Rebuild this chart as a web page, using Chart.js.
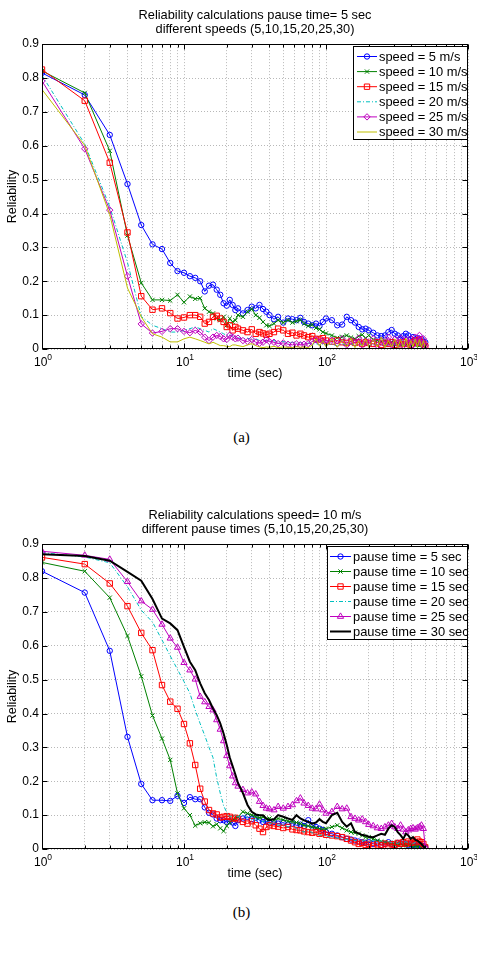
<!DOCTYPE html>
<html>
<head>
<meta charset="utf-8">
<script src="https://cdn.jsdelivr.net/npm/chart.js@4.4.1/dist/chart.umd.min.js"></script>
<style>
    body { margin: 0; background: #fff; width: 477px; height: 959px; position: relative; overflow: hidden; }
    canvas { position: absolute; left: 0; }
    #chart-speed { top: 0; }
    #chart-pause { top: 500px; }
    .caption { position: absolute; left: 0; width: 477px; text-align: center; font: 15px "Liberation Serif", "Times New Roman", serif; line-height: 18px; }
</style>
</head>
<body>
<canvas id="chart-speed" width="477" height="400"></canvas>
<canvas id="chart-pause" width="477" height="400"></canvas>
<div class="caption" style="top:428px; left:3px;">(a)</div>
<div class="caption" style="top:903px; left:3px;">(b)</div>
<script>
// time axis shared by every series (seconds)
const timeSec = [1, 2, 3, 4, 5, 6, 7, 8, 9, 10, 11, 12, 13, 14, 15, 16, 17, 18, 19, 20, 21, 22, 23, 24,
    26, 28, 30, 32, 34, 36, 38, 40,
    43, 46, 50, 54, 58, 62, 66, 70,
    75, 80, 85, 90, 95, 100,
    110, 120, 130, 140, 150, 160, 170, 180, 190, 200,
    215, 230, 245, 260, 275, 290, 305, 320, 335, 350, 365, 380, 395, 410, 425, 440, 455, 470, 485, 500];

const xDecades = [1, 10, 100, 1000];
const yTicks = [0, 0.1, 0.2, 0.3, 0.4, 0.5, 0.6, 0.7, 0.8, 0.9];

// (a) pause time = 5 sec, different speeds
const speedTitle = ['Reliability calculations pause time= 5 sec', 'different speeds (5,10,15,20,25,30)'];
const speedLabels = ['speed = 5 m/s', 'speed = 10 m/s', 'speed = 15 m/s', 'speed = 20 m/s', 'speed = 25 m/s', 'speed = 30 m/s'];

const speed5 = [0.815, 0.750, 0.632, 0.487, 0.366, 0.309, 0.295, 0.254, 0.230, 0.225, 0.215, 0.210, 0.200, 0.170, 0.187, 0.190, 0.175, 0.160, 0.135, 0.128, 0.145, 0.130, 0.115, 0.120,
    0.105, 0.115, 0.125, 0.120, 0.130, 0.118, 0.110, 0.100,
    0.088, 0.095, 0.078, 0.090, 0.088, 0.085, 0.092, 0.080,
    0.075, 0.070, 0.075, 0.068, 0.080, 0.090,
    0.085, 0.070, 0.072, 0.095, 0.085, 0.078, 0.065, 0.058, 0.060, 0.055,
    0.048, 0.040, 0.038, 0.040, 0.050, 0.056, 0.045, 0.040, 0.032, 0.038, 0.045, 0.040, 0.030, 0.035, 0.028, 0.032, 0.025, 0.030, 0.022, 0.020];
const speed10 = [0.821, 0.756, 0.585, 0.335, 0.195, 0.145, 0.145, 0.143, 0.160, 0.138, 0.155, 0.148, 0.150, 0.120, 0.110, 0.105, 0.090, 0.085, 0.095, 0.070, 0.090, 0.080, 0.085, 0.100,
    0.095, 0.110, 0.118, 0.100, 0.092, 0.080, 0.070, 0.068,
    0.075, 0.085, 0.078, 0.085, 0.078, 0.082, 0.086, 0.075,
    0.068, 0.072, 0.062, 0.058, 0.050, 0.046,
    0.040, 0.033, 0.036, 0.040, 0.034, 0.030, 0.038, 0.042, 0.032, 0.040,
    0.028, 0.025, 0.022, 0.025, 0.018, 0.020, 0.015, 0.018, 0.012, 0.016, 0.012, 0.015, 0.010, 0.014, 0.012, 0.015, 0.010, 0.012, 0.008, 0.006];
const speed15 = [0.825, 0.733, 0.550, 0.344, 0.156, 0.116, 0.120, 0.106, 0.090, 0.093, 0.100, 0.100, 0.095, 0.075, 0.080, 0.095, 0.098, 0.090, 0.080, 0.065, 0.070, 0.055, 0.065, 0.060,
    0.055, 0.050, 0.058, 0.045, 0.050, 0.046, 0.042, 0.045,
    0.050, 0.060, 0.055, 0.045, 0.048, 0.040, 0.045, 0.040,
    0.035, 0.038, 0.030, 0.028, 0.032, 0.025,
    0.022, 0.025, 0.020, 0.018, 0.022, 0.018, 0.020, 0.015, 0.020, 0.018,
    0.015, 0.020, 0.012, 0.018, 0.015, 0.020, 0.012, 0.018, 0.014, 0.020, 0.015, 0.018, 0.012, 0.020, 0.025, 0.018, 0.028, 0.020, 0.015, 0.008];
const speed20 = [0.808, 0.605, 0.420, 0.255, 0.096, 0.070, 0.060, 0.050, 0.050, 0.055, 0.060, 0.065, 0.060, 0.055, 0.050, 0.060, 0.055, 0.050, 0.045, 0.040, 0.042, 0.038, 0.035, 0.033,
    0.030, 0.032, 0.028, 0.030, 0.025, 0.027, 0.025, 0.022,
    0.025, 0.020, 0.022, 0.018, 0.020, 0.017, 0.020, 0.015,
    0.018, 0.014, 0.016, 0.012, 0.015, 0.012,
    0.014, 0.010, 0.015, 0.012, 0.016, 0.010, 0.014, 0.012, 0.015, 0.010,
    0.014, 0.012, 0.015, 0.010, 0.013, 0.011, 0.015, 0.010, 0.013, 0.010, 0.014, 0.011, 0.013, 0.010, 0.014, 0.012, 0.015, 0.011, 0.010, 0.008];
const speed25 = [0.791, 0.591, 0.410, 0.215, 0.074, 0.047, 0.052, 0.060, 0.060, 0.052, 0.048, 0.055, 0.050, 0.035, 0.025, 0.035, 0.040, 0.037, 0.030, 0.028, 0.041, 0.035, 0.030, 0.032,
    0.025, 0.022, 0.028, 0.020, 0.017, 0.020, 0.027, 0.022,
    0.020, 0.016, 0.018, 0.014, 0.012, 0.015, 0.012, 0.014,
    0.016, 0.022, 0.027, 0.020, 0.025, 0.018,
    0.026, 0.015, 0.030, 0.012, 0.025, 0.018, 0.032, 0.012, 0.024, 0.016,
    0.030, 0.010, 0.026, 0.014, 0.035, 0.012, 0.028, 0.015, 0.032, 0.010, 0.027, 0.014, 0.030, 0.012, 0.035, 0.018, 0.040, 0.015, 0.030, 0.010];
const speed30 = [0.766, 0.601, 0.397, 0.180, 0.095, 0.045, 0.035, 0.021, 0.021, 0.030, 0.035, 0.030, 0.025, 0.020, 0.015, 0.020, 0.015, 0.010, 0.010, 0.008, 0.007, 0.012, 0.012, 0.010,
    0.007, 0.012, 0.016, 0.010, 0.006, 0.004, 0.006, 0.005,
    0.008, 0.004, 0.006, 0.005, 0.004, 0.007, 0.005, 0.006,
    0.004, 0.012, 0.030, 0.008, 0.025, 0.006,
    0.030, 0.005, 0.028, 0.006, 0.032, 0.004, 0.025, 0.008, 0.030, 0.005,
    0.028, 0.006, 0.035, 0.004, 0.025, 0.007, 0.030, 0.005, 0.028, 0.006, 0.032, 0.004, 0.025, 0.008, 0.030, 0.005, 0.028, 0.006, 0.025, 0.004];

// (b) speed = 10 m/s, different pause times
const pauseTitle = ['Reliability calculations speed= 10 m/s', 'different pause times (5,10,15,20,25,30)'];
const pauseLabels = ['pause time = 5 sec', 'pause time = 10 sec', 'pause time = 15 sec', 'pause time = 20 sec', 'pause time = 25 sec', 'pause time = 30 sec'];

const pause5 = [0.820, 0.757, 0.585, 0.331, 0.192, 0.144, 0.144, 0.142, 0.157, 0.136, 0.153, 0.147, 0.147, 0.123, 0.107, 0.102, 0.090, 0.085, 0.085, 0.080, 0.082, 0.078, 0.068, 0.085,
    0.090, 0.095, 0.088, 0.092, 0.085, 0.080, 0.082, 0.078,
    0.080, 0.075, 0.078, 0.072, 0.075, 0.070, 0.072, 0.068,
    0.085, 0.070, 0.065, 0.060, 0.056, 0.050,
    0.045, 0.040, 0.035, 0.030, 0.028, 0.025, 0.022, 0.020, 0.018, 0.020,
    0.015, 0.018, 0.012, 0.015, 0.020, 0.015, 0.012, 0.018, 0.014, 0.020, 0.015, 0.012, 0.016, 0.012, 0.015, 0.010, 0.014, 0.010, 0.008, 0.005];
const pause10 = [0.846, 0.820, 0.742, 0.629, 0.510, 0.394, 0.326, 0.263, 0.164, 0.120, 0.100, 0.069, 0.076, 0.079, 0.078, 0.067, 0.073, 0.061, 0.053, 0.068, 0.078, 0.085, 0.090, 0.095,
    0.110, 0.105, 0.100, 0.095, 0.092, 0.095, 0.088, 0.090,
    0.085, 0.090, 0.086, 0.082, 0.080, 0.078, 0.075, 0.070,
    0.068, 0.065, 0.062, 0.060, 0.058, 0.060,
    0.065, 0.070, 0.062, 0.055, 0.050, 0.048, 0.045, 0.040, 0.035, 0.035,
    0.030, 0.025, 0.022, 0.020, 0.018, 0.015, 0.018, 0.012, 0.015, 0.010, 0.012, 0.010, 0.012, 0.008, 0.010, 0.008, 0.010, 0.006, 0.008, 0.005];
const pause15 = [0.861, 0.841, 0.784, 0.717, 0.638, 0.587, 0.484, 0.435, 0.414, 0.369, 0.312, 0.248, 0.178, 0.140, 0.115, 0.105, 0.102, 0.093, 0.095, 0.097, 0.095, 0.090, 0.092, 0.088,
    0.080, 0.075, 0.082, 0.070, 0.060, 0.050, 0.065, 0.070,
    0.068, 0.066, 0.062, 0.065, 0.058, 0.056, 0.055, 0.052,
    0.050, 0.048, 0.050, 0.045, 0.047, 0.042,
    0.040, 0.038, 0.035, 0.030, 0.025, 0.020, 0.015, 0.018, 0.012, 0.015,
    0.010, 0.014, 0.012, 0.016, 0.010, 0.014, 0.012, 0.018, 0.015, 0.020, 0.016, 0.022, 0.018, 0.025, 0.020, 0.028, 0.022, 0.020, 0.015, 0.005];
const pause20 = [0.875, 0.862, 0.845, 0.774, 0.705, 0.670, 0.617, 0.570, 0.530, 0.494, 0.460, 0.410, 0.370, 0.335, 0.300, 0.270, 0.210, 0.165, 0.128, 0.108, 0.095, 0.098, 0.100, 0.095,
    0.100, 0.092, 0.090, 0.085, 0.088, 0.080, 0.082, 0.075,
    0.078, 0.070, 0.072, 0.065, 0.068, 0.060, 0.055, 0.050,
    0.055, 0.048, 0.045, 0.040, 0.042, 0.038,
    0.035, 0.033, 0.030, 0.028, 0.030, 0.025, 0.028, 0.024, 0.026, 0.022,
    0.025, 0.020, 0.024, 0.020, 0.022, 0.018, 0.020, 0.016, 0.020, 0.018, 0.022, 0.018, 0.020, 0.016, 0.020, 0.018, 0.022, 0.016, 0.012, 0.008];
const pause25 = [0.879, 0.867, 0.855, 0.789, 0.732, 0.707, 0.663, 0.622, 0.595, 0.550, 0.528, 0.501, 0.450, 0.434, 0.420, 0.410, 0.381, 0.353, 0.319, 0.275, 0.245, 0.215, 0.195, 0.185,
    0.175, 0.165, 0.168, 0.162, 0.140, 0.128, 0.120, 0.118,
    0.115, 0.125, 0.120, 0.125, 0.130, 0.142, 0.150, 0.135,
    0.128, 0.120, 0.118, 0.132, 0.115, 0.105,
    0.110, 0.125, 0.118, 0.120, 0.095, 0.090, 0.085, 0.088, 0.080, 0.072,
    0.068, 0.062, 0.060, 0.065, 0.070, 0.075, 0.065, 0.060, 0.070, 0.058, 0.050, 0.056, 0.060, 0.062, 0.058, 0.062, 0.065, 0.070, 0.060, 0.005];
const pause30 = [0.870, 0.865, 0.851, 0.818, 0.792, 0.738, 0.680, 0.666, 0.646, 0.597, 0.553, 0.528, 0.489, 0.460, 0.440, 0.415, 0.395, 0.371, 0.341, 0.307, 0.270, 0.245, 0.220, 0.195,
    0.165, 0.130, 0.110, 0.102, 0.100, 0.100, 0.090, 0.085,
    0.088, 0.100, 0.095, 0.090, 0.086, 0.100, 0.090, 0.085,
    0.080, 0.075, 0.078, 0.088, 0.080, 0.076,
    0.100, 0.107, 0.080, 0.066, 0.076, 0.050, 0.046, 0.041, 0.040, 0.036,
    0.035, 0.040, 0.045, 0.042, 0.060, 0.070, 0.065, 0.050, 0.041, 0.030, 0.045, 0.040, 0.030, 0.035, 0.027, 0.025, 0.020, 0.015, 0.008, 0.002];

const FONT = '"Liberation Sans", Arial, Helvetica, sans-serif';
// -------------------------------------------------------------------------------------------
function lineStyles(fifthMarker, lastColor, lastWidth)
{
    return [
        { color: '#0000ff', marker: 'circle', radius: 2.7 },
        { color: '#008000', marker: 'crossRot', radius: 3 },
        { color: '#ff0000', marker: 'rect', radius: 3.8 },
        { color: '#00bfbf', marker: false, radius: 0, dash: [4, 2, 1, 2] },
        { color: '#bf00bf', marker: fifthMarker, radius: fifthMarker === 'triangle' ? 3.6 : 3.2 },
        { color: lastColor, marker: false, radius: 0, width: lastWidth }
    ];
}
// -------------------------------------------------------------------------------------------
function buildDatasets(labels, series, styles)
{
    return series.map((values, i) => ({
        label: labels[i],
        data: values.map((v, j) => ({ x: timeSec[j], y: v })),
        borderColor: styles[i].color,
        backgroundColor: 'rgba(0,0,0,0)',
        borderWidth: styles[i].width || 1,
        borderDash: styles[i].dash || [],
        pointStyle: styles[i].marker,
        pointRadius: styles[i].radius,
        pointBorderWidth: 1,
        pointBorderColor: styles[i].color,
        pointBackgroundColor: 'rgba(0,0,0,0)',
        tension: 0,
        order: series.length - i
    }));
}
// -------------------------------------------------------------------------------------------
const matlabFrame = {
    id: 'matlabFrame',
    afterDatasetsDraw(chart, args, opts) {
        const { ctx, chartArea: a, scales: { x, y } } = chart;
        const L = Math.round(a.left) + 0.5, R = Math.round(a.right) - 0.5;
        const T = Math.round(a.top) + 0.5, B = Math.round(a.bottom) - 0.5;

        ctx.save();
        ctx.strokeStyle = '#000';
        ctx.lineWidth = 1;
        ctx.setLineDash([]);
        ctx.beginPath();
        x.ticks.forEach(t => {
            const px = Math.round(x.getPixelForValue(t.value)) + 0.5;
            const len = xDecades.includes(t.value) ? 5 : 3;
            ctx.moveTo(px, B); ctx.lineTo(px, B - len);
            ctx.moveTo(px, T); ctx.lineTo(px, T + len);
        });
        y.ticks.forEach(t => {
            const py = Math.round(y.getPixelForValue(t.value)) + 0.5;
            ctx.moveTo(L, py); ctx.lineTo(L + 5, py);
            ctx.moveTo(R, py); ctx.lineTo(R - 5, py);
        });
        ctx.stroke();
        ctx.strokeRect(L, T, R - L, B - T);

        // x tick labels as powers of ten
        ctx.fillStyle = '#000';
        ctx.textBaseline = 'alphabetic';
        xDecades.forEach((v, k) => {
            const px = x.getPixelForValue(v);
            ctx.font = '12px ' + FONT;
            const wBase = ctx.measureText('10').width;
            ctx.font = '8.5px ' + FONT;
            const wExp = ctx.measureText(String(k)).width;
            const x0 = px - (wBase + wExp) / 2 + 1;
            ctx.font = '12px ' + FONT;
            ctx.fillText('10', x0, a.bottom + 17);
            ctx.font = '8.5px ' + FONT;
            ctx.fillText(String(k), x0 + wBase, a.bottom + 11);
        });

        drawLegend(chart, opts);
        ctx.restore();
    }
};
// -------------------------------------------------------------------------------------------
function drawLegend(chart, box)
{
    const ctx = chart.ctx;
    const right = chart.chartArea.right;
    ctx.save();
    ctx.fillStyle = '#fff';
    ctx.fillRect(box.left, box.top, right - box.left, box.bottom - box.top);
    ctx.strokeStyle = '#000';
    ctx.lineWidth = 1;
    ctx.strokeRect(box.left + 0.5, box.top + 0.5, right - box.left - 1, box.bottom - box.top - 1);

    ctx.beginPath();
    ctx.rect(box.left, box.top, right - box.left - 1, box.bottom - box.top);
    ctx.clip();

    chart.data.datasets.forEach((ds, i) => {
        const yy = box.firstRow + i * box.rowStep;
        const x0 = box.left + box.lineInset;
        ctx.strokeStyle = ds.borderColor;
        ctx.lineWidth = ds.borderWidth;
        ctx.setLineDash(ds.borderDash);
        ctx.beginPath();
        ctx.moveTo(x0, yy);
        ctx.lineTo(x0 + box.lineLength, yy);
        ctx.stroke();
        ctx.setLineDash([]);
        if (ds.pointRadius > 0 && Chart.helpers && Chart.helpers.drawPoint) {
            ctx.lineWidth = 1;
            ctx.fillStyle = 'rgba(0,0,0,0)';
            Chart.helpers.drawPoint(ctx, { pointStyle: ds.pointStyle, radius: ds.pointRadius, borderWidth: 1, rotation: 0 }, x0 + box.lineLength / 2, yy);
        }
        ctx.fillStyle = '#000';
        ctx.font = '12.9px ' + FONT;
        ctx.textBaseline = 'middle';
        ctx.textAlign = 'left';
        ctx.fillText(ds.label, x0 + box.lineLength + 2, yy + 0.5);
    });
    ctx.restore();
}
// -------------------------------------------------------------------------------------------
function drawReliabilityChart(canvasId, title, labels, series, styles, legendBox)
{
    const options = {
        responsive: false,
        animation: false,
        devicePixelRatio: 1,
        events: [],
        layout: { padding: { left: 0, right: 9, top: 0, bottom: 0 } },
        scales: {
            x: {
                type: 'logarithmic',
                min: 1,
                max: 1000,
                afterBuildTicks: (scale) => {
                    const ticks = [];
                    for (let d = 1; d < 1000; d *= 10) {
                        for (let m = 1; m < 10; m++) {
                            ticks.push({ value: m * d });
                        }
                    }
                    ticks.push({ value: 1000 });
                    scale.ticks = ticks;
                },
                afterFit: (scale) => { scale.height = 51; },
                ticks: { display: false },
                grid: { color: '#b8b8b8', lineWidth: 1, drawTicks: false },
                border: { display: false, dash: [1, 2] },
                title: { display: true, text: 'time (sec)', color: '#000', font: { family: FONT, size: 12.5 }, padding: { top: 0, bottom: 19 } }
            },
            y: {
                min: 0,
                max: 0.9,
                afterBuildTicks: (scale) => { scale.ticks = yTicks.map(v => ({ value: v })); },
                afterFit: (scale) => { scale.width = 42; },
                ticks: { color: '#000', padding: 3, autoSkip: false, font: { family: FONT, size: 12 }, callback: (v) => String(Math.round(v * 10) / 10) },
                grid: { color: '#b8b8b8', lineWidth: 1, drawTicks: false },
                border: { display: false, dash: [1, 2] },
                title: { display: true, text: 'Reliability', color: '#000', font: { family: FONT, size: 12.5 }, padding: { top: 5, bottom: 0 } }
            }
        },
        plugins: {
            legend: { display: false },
            tooltip: { enabled: false },
            title: {
                display: true,
                fullSize: false,
                text: title,
                color: '#000',
                font: { family: FONT, size: 12.8, weight: 'normal', lineHeight: 1.06 },
                padding: { top: 9, bottom: 8 }
            },
            matlabFrame: legendBox
        }
    };

    return new Chart(document.getElementById(canvasId), {
        type: 'line',
        data: { datasets: buildDatasets(labels, series, styles) },
        options: options,
        plugins: [matlabFrame]
    });
}
// -------------------------------------------------------------------------------------------
drawReliabilityChart('chart-speed', speedTitle, speedLabels,
    [speed5, speed10, speed15, speed20, speed25, speed30],
    lineStyles('rectRot', '#bfbf00', 1),
    { left: 353, top: 46, bottom: 140, firstRow: 56.5, rowStep: 15.1, lineInset: 4, lineLength: 20 });

drawReliabilityChart('chart-pause', pauseTitle, pauseLabels,
    [pause5, pause10, pause15, pause20, pause25, pause30],
    lineStyles('triangle', '#000000', 2),
    { left: 327, top: 46, bottom: 140, firstRow: 56.5, rowStep: 15.0, lineInset: 3, lineLength: 21 });
</script>
</body>
</html>
